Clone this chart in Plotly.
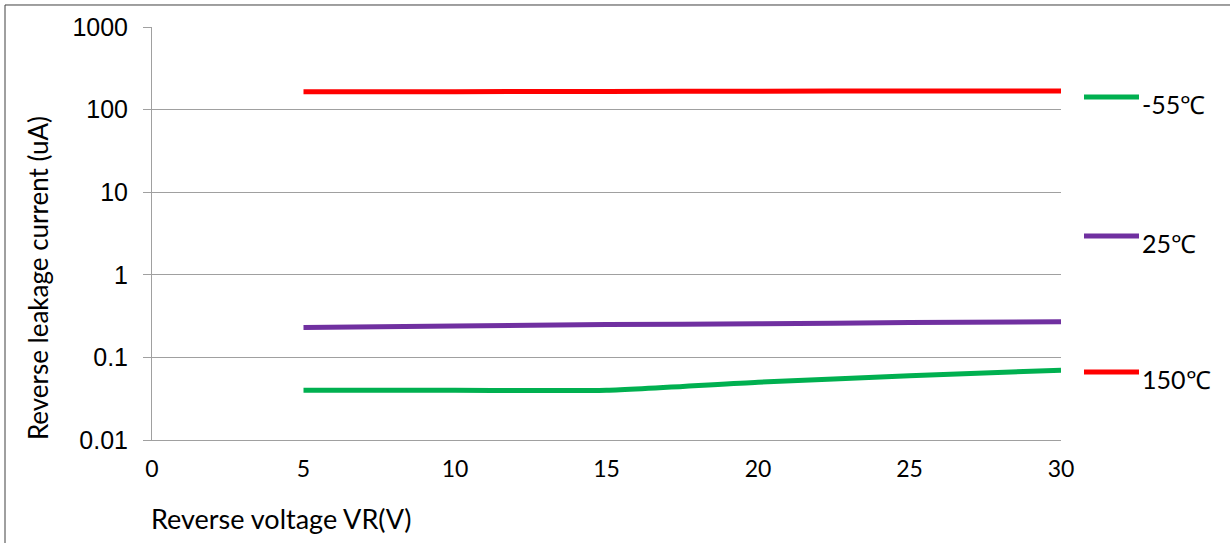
import plotly.graph_objects as go

voltage = [5, 10, 15, 20, 25, 30]
leak_m55 = [0.040, 0.040, 0.040, 0.050, 0.060, 0.070]
leak_25 = [0.23, 0.24, 0.25, 0.255, 0.265, 0.27]
leak_150 = [165, 165, 166, 167, 168, 168]

series_names = ["-55℃", "25℃", "150℃"]
series_values = [leak_m55, leak_25, leak_150]
series_colors = ["#00b050", "#7030a0", "#ff0000"]

x_ticks = [0, 5, 10, 15, 20, 25, 30]
y_ticks = [0.01, 0.1, 1, 10, 100, 1000]
y_tick_text = ["0.01", "0.1", "1", "10", "100", "1000"]

fig = go.Figure()
for name, vals, col in zip(series_names, series_values, series_colors):
    fig.add_trace(go.Scatter(
        x=voltage, y=vals, name=name, mode="lines",
        line=dict(color=col, width=5, shape="spline", smoothing=0.6),
    ))

grid = "#a0a0a0"
fig.update_layout(
    width=1230, height=543,
    margin=dict(l=152, r=169, t=27, b=103),
    paper_bgcolor="white", plot_bgcolor="white",
    showlegend=False,
    xaxis=dict(range=[0, 30], tickvals=x_ticks, showgrid=False,
               showline=True, linecolor=grid, linewidth=1, zeroline=False,
               ticks="", tickfont=dict(family="Lato", size=23, color="#000"),
               ticklabelstandoff=8),
    yaxis=dict(type="log", range=[-2, 3], tickvals=y_ticks, ticktext=y_tick_text,
               showgrid=True, gridcolor=grid, gridwidth=1,
               showline=True, linecolor=grid, linewidth=1, zeroline=False,
               ticks="outside", ticklen=8, tickcolor=grid,
               tickfont=dict(family="Liberation Sans", size=25, color="#000"),
               ticklabelstandoff=10),
    font=dict(family="Lato", color="#000"),
)

# small tick marks where the horizontal axis crosses at 1
for xv in x_ticks[1:]:
    fig.add_shape(type="line", xref="x", yref="y", x0=xv, x1=xv,
                  ysizemode="pixel", yanchor=0, y0=0, y1=-7,
                  line=dict(color=grid, width=1))

# manual legend (long line samples, text set slightly lower)
legend_y = [0.8305, 0.4939, 0.1646]
for name, col, ly in zip(series_names, series_colors, legend_y):
    fig.add_shape(type="line", xref="paper", yref="paper",
                  x0=1.0253, x1=1.0858, y0=ly, y1=ly,
                  line=dict(color=col, width=5))
    fig.add_annotation(text=name, xref="paper", yref="paper",
                       x=1.087, y=ly, xanchor="left", yanchor="middle",
                       yshift=-7, showarrow=False,
                       font=dict(family="Lato", size=25, color="#000"))

fig.add_annotation(text="Reverse leakage current (uA)", xref="paper", yref="paper",
                   x=-0.1254, y=0.392, xanchor="center", yanchor="middle",
                   textangle=-90, showarrow=False,
                   font=dict(family="Lato", size=26, color="#000"))

fig.add_annotation(text="Reverse voltage VR(V)", xref="paper", yref="paper",
                   x=-0.003, y=-0.1889, xanchor="left", yanchor="middle", showarrow=False,
                   font=dict(family="Lato", size=27, color="#000"))

fig.add_shape(type="rect", xref="paper", yref="paper",
              x0=-0.1617, x1=1.2, y0=-0.3, y1=1.0533,
              line=dict(color="#404040", width=1), layer="below")

fig.write_html("out.html", config={"displayModeBar": False},
               post_script="document.body.style.margin='0';")
